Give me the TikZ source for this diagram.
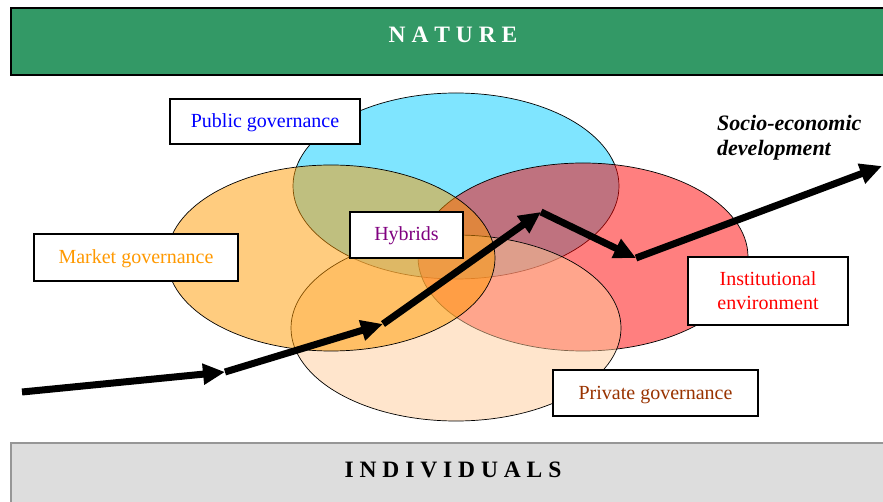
\documentclass[tikz,border=0pt]{standalone}
\usepackage{fontspec}
\setmainfont{Liberation Serif}
\usetikzlibrary{arrows.meta}

\definecolor{naturegreen}{RGB}{51,153,102}
\definecolor{indivgray}{RGB}{221,221,221}
\definecolor{indivline}{RGB}{150,150,150}
\definecolor{pubfill}{RGB}{0,204,255}
\definecolor{instfill}{RGB}{255,0,0}
\definecolor{privfill}{RGB}{255,204,153}
\definecolor{mktfill}{RGB}{255,153,0}
\definecolor{pubtext}{RGB}{0,0,255}
\definecolor{mkttext}{RGB}{255,153,0}
\definecolor{hybtext}{RGB}{128,0,128}
\definecolor{insttext}{RGB}{255,0,0}
\definecolor{privtext}{RGB}{153,51,0}

\begin{document}
\begin{tikzpicture}[x=1pt,y=-1pt,
  sphere/.style={draw=black, line width=0.7pt, fill opacity=0.5},
  labelbox/.style={draw=black, line width=1.6pt, fill=white, inner sep=0pt,
    align=center, font=\fontsize{20}{24}\selectfont},
  oneline/.style={text height=15.5pt, text depth=3.5pt},
  flow/.style={line width=7pt, -{Triangle[length=22pt,width=20pt]}},
  bartext/.style={font=\fontsize{23.5}{28}\selectfont\bfseries, anchor=base, inner sep=0pt}]
\useasboundingbox (0,0) rectangle (883,502);
\clip (0,0) rectangle (883,502);

% framing bands
\draw[line width=2pt, draw=black, fill=naturegreen] (11,8) rectangle (900,75);
\node[bartext, text=white] (nature) at (453,43) {N A T U R E};
\draw[line width=2pt, draw=indivline, fill=indivgray] (11,443) rectangle (900,520);
\node[bartext, text=black] (individuals) at (453,477) {I N D I V I D U A L S};

% governance spheres (later ones lie over earlier ones)
\path[sphere, fill=pubfill]  (456,186) ellipse [x radius=163pt, y radius=93pt];
\path[sphere, fill=instfill] (583,257) ellipse [x radius=165pt, y radius=94pt];
\path[sphere, fill=privfill] (456,328) ellipse [x radius=165pt, y radius=93pt];
\path[sphere, fill=mktfill]  (331,258) ellipse [x radius=164pt, y radius=93pt];

% labels
\node[labelbox, oneline, text=pubtext, minimum width=190pt, minimum height=45pt] (public) at (265,121.5) {Public governance};
\node[labelbox, oneline, text=mkttext, minimum width=204pt, minimum height=47pt] (market) at (136,257.5) {Market governance};
\node[labelbox, oneline, text=hybtext, minimum width=113pt, minimum height=46pt] (hybrids) at (406.5,235) {Hybrids};
\node[labelbox, text=insttext, minimum width=160pt, minimum height=68pt] (institutional) at (768,291) {Institutional\\environment};
\node[labelbox, oneline, text=privtext, minimum width=205pt, minimum height=46pt] (private) at (655.5,393) {Private governance};

% the base anchor of this two-line node sits on its last line
\node[anchor=base west, inner sep=0pt, align=left,
  font=\fontsize{22}{25}\selectfont\bfseries\itshape] (socio) at (717,156) {Socio-economic\\development};

% development path
\coordinate (p0) at (22,392);
\coordinate (p1) at (225,372);
\coordinate (p2) at (383,324);
\coordinate (p3) at (541,212);
\coordinate (p4) at (636,258);
\coordinate (p5) at (882,166);
\draw[flow] (p0) -- (p1);
\draw[flow] (p1) -- (p2);
\draw[flow] (p2) -- (p3);
\draw[flow] (p3) -- (p4);
\draw[flow] (p4) -- (p5);
\end{tikzpicture}
\end{document}
